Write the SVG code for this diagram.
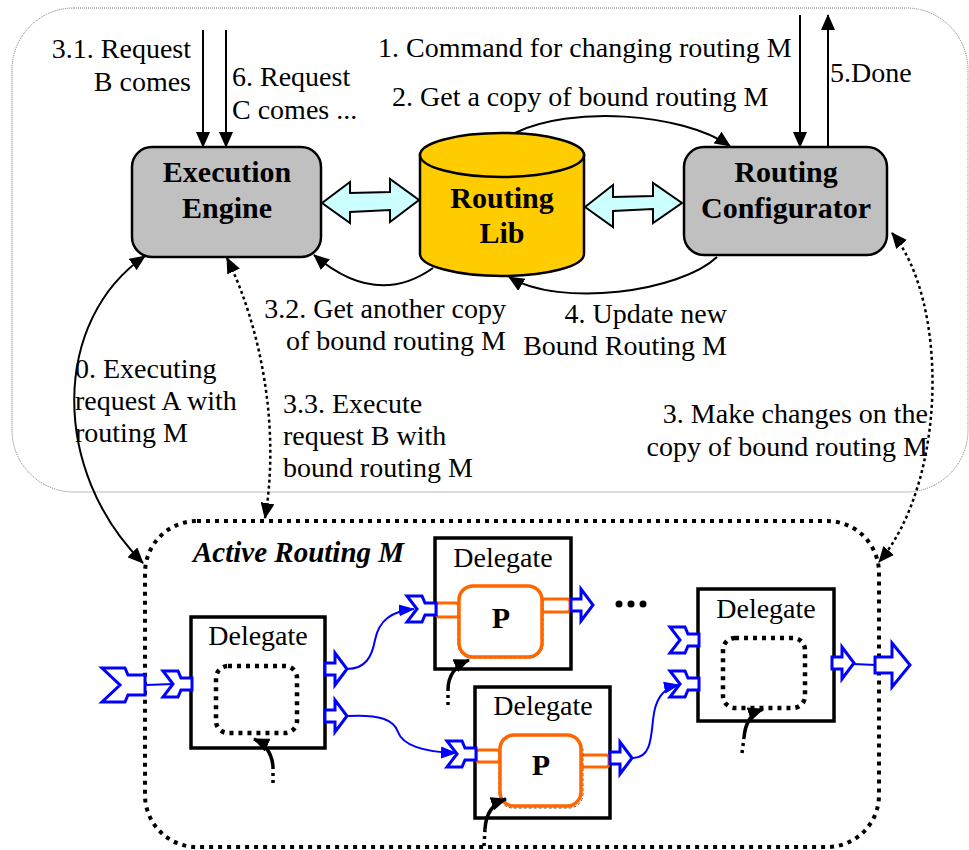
<svg xmlns="http://www.w3.org/2000/svg" width="969" height="850" viewBox="0 0 969 850" font-family="'Liberation Serif', 'DejaVu Serif', serif">
  <style>
    .t { font-family: 'Liberation Serif', 'DejaVu Serif', serif; font-size: 28px; fill: #000; }
    .b { font-weight: bold; font-size: 30px; }
    .bi { font-weight: bold; font-style: italic; font-size: 29px; }
    .mid { text-anchor: middle; }
    .end { text-anchor: end; }
    .node { fill: #c0c0c0; stroke: #000; stroke-width: 2.5; }
    .lib { fill: #ffcc00; stroke: #000; stroke-width: 2.5; }
    .dbl { fill: #ccffff; stroke: #000; stroke-width: 2; }
    .deleg { fill: #fff; stroke: #000; stroke-width: 3.5; }
    .pbox { fill: #fff; stroke: #ff6600; stroke-width: 3.5; }
    .pport { fill: #fff; stroke: #ff6600; stroke-width: 3; }
    .shadow { fill: none; stroke: #555; stroke-width: 1; stroke-dasharray: 3 2; }
    .port { fill: #fff; stroke: #0000ff; stroke-width: 3; stroke-linejoin: miter; }
    .blue { fill: none; stroke: #0000ff; stroke-width: 2; }
    .blk { fill: none; stroke: #000; stroke-width: 2; }
    .dot { fill: none; stroke: #000; stroke-width: 2.5; stroke-dasharray: 3 3; }
    .thick { fill: none; stroke: #000; stroke-width: 3.5; }
    .tail { fill: none; stroke: #000; stroke-width: 3.5; stroke-dasharray: 3 4; }
    .frame { fill: none; stroke: #777; stroke-width: 1; stroke-dasharray: 1 1; }
    .active { fill: none; stroke: #000; stroke-width: 4; stroke-dasharray: 4 5; }
    .inner { fill: none; stroke: #000; stroke-width: 4.5; stroke-dasharray: 4 5; }
  </style>
  <defs>
    <marker id="ah" markerUnits="userSpaceOnUse" markerWidth="16" markerHeight="14" refX="15" refY="7" orient="auto-start-reverse">
      <path d="M0,0 L16,7 L0,14 Z" fill="#000"/>
    </marker>
    <marker id="ahb" markerUnits="userSpaceOnUse" markerWidth="16" markerHeight="14" refX="15" refY="7" orient="auto">
      <path d="M0,1 L16,7 L0,13 Z" fill="#0000ff"/>
    </marker>
    <!-- input socket, anchored at its right-centre -->
    <polygon id="inPort" points="-29,-13 -14,-13 -11,-6 0,-6 0,6 -11,6 -14,13 -29,13 -19,0"/>
    <polygon id="inPortBig" points="-43,-17 -20,-17 -17,-10 0,-10 0,10 -17,10 -20,17 -43,17 -25,0"/>
    <!-- output plug, anchored at its left-centre -->
    <polygon id="outPort" points="0,-6 10,-6 10,-16 22,0 10,16 10,6 0,6"/>
    <polygon id="outPortBig" points="0,-8 17,-8 17,-22 35,0 17,22 17,8 0,8"/>
  </defs>

  <!-- system boundary -->
  <rect class="frame" x="12" y="8" width="956" height="484" rx="62" ry="62"/>

  <!-- Execution Engine -->
  <g id="execution-engine">
    <rect class="node" x="132" y="147" width="189" height="110" rx="20" ry="20"/>
    <text class="t b mid" x="227" y="182">Execution</text>
    <text class="t b mid" x="227" y="218">Engine</text>
  </g>

  <!-- Routing Lib -->
  <g id="routing-lib">
    <path class="lib" d="M420,155 L420,254 A82,22 0 0 0 584,254 L584,155 Z"/>
    <ellipse class="lib" cx="502" cy="155" rx="82" ry="22"/>
    <text class="t b mid" x="502" y="208">Routing</text>
    <text class="t b mid" x="502" y="243">Lib</text>
  </g>

  <!-- Routing Configurator -->
  <g id="routing-configurator">
    <rect class="node" x="684" y="147" width="203" height="108" rx="20" ry="20"/>
    <text class="t b mid" x="786" y="182">Routing</text>
    <text class="t b mid" x="786" y="218">Configurator</text>
  </g>

  <!-- Active Routing M -->
  <g id="active-routing">
    <rect class="active" x="145" y="521" width="734" height="326" rx="52" ry="52"/>
    <text class="t bi" x="193" y="562">Active Routing M</text>
  </g>

  <!-- Delegate 1 (empty slot) -->
  <g id="delegate-1">
    <rect class="deleg" x="191" y="617" width="134" height="131"/>
    <text class="t mid" x="258" y="645">Delegate</text>
    <rect class="inner" x="216" y="666" width="81" height="67" rx="12" ry="12"/>
  </g>

  <!-- Delegate 2 (P) -->
  <g id="delegate-2">
    <rect class="deleg" x="435" y="538" width="136" height="131"/>
    <text class="t mid" x="503" y="567">Delegate</text>
    <rect class="pport" x="436" y="603" width="23" height="14" rx="3"/>
    <rect class="pport" x="542" y="599" width="28" height="13" rx="3"/>
    <rect class="shadow" x="458" y="588" width="85" height="70" rx="14"/>
    <rect class="pbox" x="459" y="586" width="83" height="71" rx="14" ry="14"/>
    <text class="t b mid" x="501" y="628">P</text>
  </g>

  <!-- Delegate 3 (P) -->
  <g id="delegate-3">
    <rect class="deleg" x="475" y="687" width="135" height="131"/>
    <text class="t mid" x="543" y="715">Delegate</text>
    <rect class="pport" x="476" y="750" width="24" height="12" rx="3"/>
    <rect class="pport" x="581" y="755" width="28" height="12" rx="3"/>
    <rect class="shadow" x="499" y="737" width="84" height="71" rx="14"/>
    <rect class="pbox" x="500" y="735" width="81" height="71" rx="14" ry="14"/>
    <text class="t b mid" x="541" y="775">P</text>
  </g>

  <!-- Delegate 4 (empty slot) -->
  <g id="delegate-4">
    <rect class="deleg" x="698" y="589" width="136" height="132"/>
    <text class="t mid" x="766" y="618">Delegate</text>
    <rect class="inner" x="723" y="638" width="82" height="70" rx="12" ry="12"/>
  </g>

  <!-- ellipsis between delegates -->
  <g id="more" fill="#000">
    <circle cx="619" cy="604" r="3.5"/>
    <circle cx="631" cy="604" r="3.5"/>
    <circle cx="643" cy="604" r="3.5"/>
  </g>

  <!-- connectors -->
  <g id="connectors">
    <!-- requests and commands from outside -->
    <line class="blk" x1="203" y1="30" x2="203" y2="147" marker-end="url(#ah)"/>
    <line class="blk" x1="226" y1="30" x2="226" y2="147" marker-end="url(#ah)"/>
    <line class="blk" x1="800" y1="15" x2="800" y2="147" marker-end="url(#ah)"/>
    <line class="blk" x1="828" y1="147" x2="828" y2="15" marker-end="url(#ah)"/>

    <!-- library access -->
    <polygon class="dbl" points="322,203 350,182 350,193 390,192 390,179 419,200 390,222 390,210 350,212 350,223"/>
    <polygon class="dbl" points="585,207 613,185 613,197 653,196 653,183 682,203 653,223 653,209 613,211 613,227"/>
    <path class="blk" d="M515,133 C570,106 680,112 730,146" marker-end="url(#ah)"/>
    <path class="blk" d="M433,268 C402,290 362,296 314,255" marker-end="url(#ah)"/>
    <path class="blk" d="M717,257 C680,292 560,308 509,277" marker-end="url(#ah)"/>

    <!-- links to the active routing -->
    <path class="blk" d="M145,256 C52,320 50,470 143,563" marker-start="url(#ah)" marker-end="url(#ah)"/>
    <path class="dot" d="M227,258 C262,330 280,430 265,518" marker-start="url(#ah)" marker-end="url(#ah)"/>
    <path class="dot" d="M892,233 C948,300 948,480 879,562" marker-start="url(#ah)" marker-end="url(#ah)"/>

    <!-- routing flow -->
    <line class="blue" x1="145" y1="685" x2="174" y2="684"/>
    <path class="blue" d="M347,669 C366,669 372,656 375,640 C379,620 392,611 414,609" marker-end="url(#ahb)"/>
    <path class="blue" d="M347,716 C380,714 394,720 398,732 C403,746 425,752 456,753" marker-end="url(#ahb)"/>
    <path class="blue" d="M633,758 C650,758 651,740 653,720 C655,700 662,688 679,685" marker-end="url(#ahb)"/>
    <line class="blue" x1="853" y1="664" x2="876" y2="665"/>

    <!-- ports -->
    <use href="#inPortBig" class="port" x="145" y="685"/>
    <use href="#inPort" class="port" x="192" y="684"/>
    <use href="#outPort" class="port" x="325" y="669"/>
    <use href="#outPort" class="port" x="325" y="716"/>
    <use href="#inPort" class="port" x="436" y="609"/>
    <use href="#outPort" class="port" x="571" y="605"/>
    <use href="#inPort" class="port" x="476" y="754"/>
    <use href="#outPort" class="port" x="610" y="758"/>
    <use href="#inPort" class="port" x="699" y="640"/>
    <use href="#inPort" class="port" x="699" y="684"/>
    <use href="#outPort" class="port" x="832" y="663"/>
    <use href="#outPortBig" class="port" x="875" y="665"/>

    <!-- plug-in hooks -->
    <line class="tail" x1="273" y1="783" x2="273" y2="767"/>
    <path class="thick" d="M273,767 C272,752 265,744 254,739" marker-end="url(#ah)"/>
    <line class="tail" x1="448" y1="705" x2="448" y2="690"/>
    <path class="thick" d="M448,690 C448,674 457,665 469,660" marker-end="url(#ah)"/>
    <line class="tail" x1="484" y1="846" x2="485" y2="829"/>
    <path class="thick" d="M485,829 C486,812 494,803 506,799" marker-end="url(#ah)"/>
    <line class="tail" x1="742" y1="753" x2="744" y2="738"/>
    <path class="thick" d="M744,738 C745,722 752,713 763,709" marker-end="url(#ah)"/>
  </g>

  <!-- labels -->
  <g id="labels">
    <text class="t end" x="191" y="58">3.1. Request</text>
    <text class="t end" x="191" y="91">B comes</text>
    <text class="t" x="232" y="86">6. Request</text>
    <text class="t" x="232" y="119">C comes ...</text>
    <text class="t" x="378" y="57">1. Command for changing routing M</text>
    <text class="t" x="392" y="106">2. Get a copy of bound routing M</text>
    <text class="t" x="830" y="82">5.Done</text>
    <text class="t end" x="506" y="318">3.2. Get another copy</text>
    <text class="t end" x="506" y="350">of bound routing M</text>
    <text class="t end" x="727" y="323">4. Update new</text>
    <text class="t end" x="727" y="355">Bound Routing M</text>
    <text class="t" x="75" y="378">0. Executing</text>
    <text class="t" x="75" y="410">request A with</text>
    <text class="t" x="75" y="442">routing M</text>
    <text class="t" x="283" y="413">3.3. Execute</text>
    <text class="t" x="283" y="445">request B with</text>
    <text class="t" x="283" y="477">bound routing M</text>
    <text class="t end" x="928" y="423">3. Make changes on the</text>
    <text class="t end" x="928" y="456">copy of bound routing M</text>
  </g>
</svg>
